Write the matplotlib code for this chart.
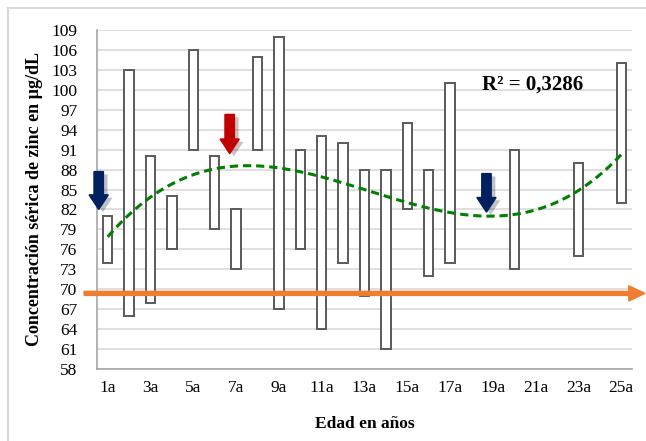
import matplotlib.pyplot as plt
import matplotlib.patheffects as pe
from matplotlib.patches import FancyArrow
from matplotlib.lines import Line2D
import numpy as np

# edades (categorias 1a..25a), rango min-max de zinc por edad
edades = list(range(1, 26))
edad_barra = [1, 2, 3, 4, 5, 6, 7, 8, 9, 10, 11, 12, 13, 14, 15, 16, 17, 20, 23, 25]
zinc_min = [74, 66, 68, 76, 91, 79, 73, 91, 67, 76, 64, 74, 69, 61, 82, 72, 74, 73, 75, 83]
zinc_max = [81, 103, 90, 84, 106, 90, 82, 105, 108, 91, 93, 92, 88, 88, 95, 88, 101, 91, 89, 104]

tend_x = [1, 2.26, 6.8, 8.2, 12.75, 16.2, 18.9, 21.2, 23, 25]
tend_y = [77.6, 82.3, 88.5, 88.6, 85.0, 82.0, 81.0, 82.3, 85.0, 90.1]

# flechas: (x, y inicio, y fin, color)
flechas = [(0.58, 87.7, 82.0, '#002060'),
           (6.7, 96.3, 90.4, '#C00000'),
           (18.7, 87.4, 81.6, '#002060')]

yticks = list(range(58, 110, 3))
xlabels = [f'{e}a' if e % 2 == 1 else '' for e in edades]

plt.rcParams['font.family'] = ['Liberation Serif', 'DejaVu Serif']

fig = plt.figure(figsize=(6.46, 4.41), dpi=100)
ax = fig.add_axes([97/646, 72/441, 535/646, 339/441])

ax.bar(edad_barra, np.array(zinc_max) - np.array(zinc_min), bottom=zinc_min,
       width=0.44, color='white', edgecolor='#5A5A5A', linewidth=1.4, zorder=3)

coef = np.polyfit(tend_x, tend_y, 3)
xs = np.linspace(1, 25, 200)
ax.plot(xs, np.polyval(coef, xs), color='#008000', lw=2.2, ls=(0, (2.7, 1.6)), zorder=4)

for x, y0, y1, c in flechas:
    a = FancyArrow(x, y0, 0, y1 - y0, width=0.44, head_width=0.9, head_length=2.2,
                   length_includes_head=True, color=c, zorder=6,
                   path_effects=[pe.SimplePatchShadow(offset=(3, -2), alpha=0.25), pe.Normal()])
    a.set_clip_on(False)
    ax.add_patch(a)

# linea naranja horizontal con flecha
orange = FancyArrow(-0.024, 0.223, 1.048, 0, width=0.012, head_width=0.045,
                    head_length=0.03, length_includes_head=True, color='#ED7D31',
                    transform=ax.transAxes, zorder=5)
orange.set_clip_on(False)
ax.add_patch(orange)

ax.text(0.815, 0.84, 'R² = 0,3286', transform=ax.transAxes, ha='center', va='center',
        fontsize=15, fontweight='bold')

ax.set_xlim(0.5, 25.5)
ax.set_ylim(58, 109)
ax.set_yticks(yticks)
ax.set_xticks(edades)
ax.set_xticklabels(xlabels)
ax.tick_params(length=0, labelsize=12.5, pad=8)
ax.tick_params(axis='y', pad=14)
ax.grid(axis='y', color='#D9D9D9', lw=1.2, zorder=0)
for s in ['top', 'right']:
    ax.spines[s].set_visible(False)
for s in ['left', 'bottom']:
    ax.spines[s].set_color('#A6A6A6')
    ax.spines[s].set_linewidth(1.2)

ax.set_xlabel('Edad en años', fontsize=12.5, fontweight='bold', labelpad=14)
ax.set_ylabel('Concentración sérica de zinc en µg/dL', fontsize=13, fontweight='bold', labelpad=6)

# borde del area del grafico
fig.add_artist(Line2D([8/646, 8/646], [0, 1 - 8/441], color='#D9D9D9', lw=1.5))
fig.add_artist(Line2D([8/646, 1], [1 - 8/441, 1 - 8/441], color='#D9D9D9', lw=1.5))

fig.savefig('out.png', dpi=100)
